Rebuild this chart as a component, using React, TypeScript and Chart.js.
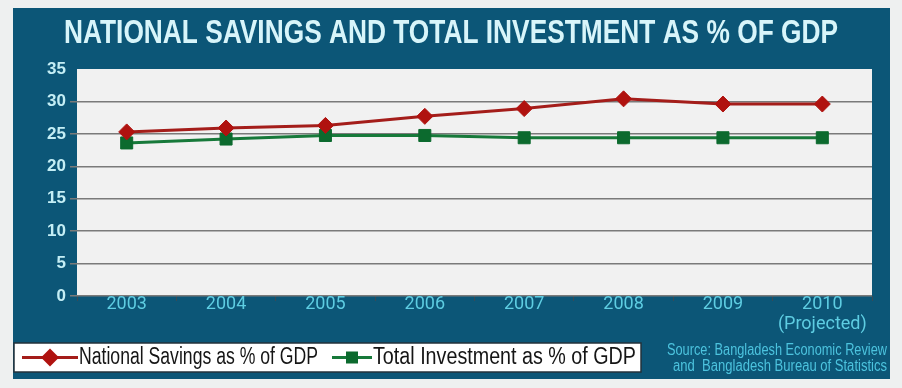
import React, { useEffect, useRef } from 'react';
import { Chart, registerables } from 'chart.js';

Chart.register(...registerables);

const categories: (string | string[])[] = ['2003', '2004', '2005', '2006', '2007', '2008', '2009', ['2010', '(Projected)']];
const nationalSavings = [25.3, 25.9, 26.3, 27.7, 28.9, 30.4, 29.6, 29.6];
const totalInvestment = [23.6, 24.2, 24.75, 24.75, 24.4, 24.4, 24.4, 24.4];
const yTicks = [0, 5, 10, 15, 20, 25, 30, 35];
const seriesNames = ['National Savings as % of GDP', 'Total Investment as % of GDP'];
const titleText = 'NATIONAL SAVINGS AND TOTAL INVESTMENT AS % OF GDP';
const sourceLines = ['Source: Bangladesh Economic Review', 'and  Bangladesh Bureau of Statistics'];

const SANS = "'Liberation Sans', Arial, sans-serif";
const XFONT = "Roboto, 'Liberation Sans', sans-serif";

const RED_LINE = '#a41d1a';
const RED_MARK = '#b0120f';
const GREEN_LINE = '#17793a';
const GREEN_MARK = '#0c6a2e';
const PANEL = '#0c5677';

// draws text squeezed horizontally so that it spans the given width
function squeezedText(
  ctx: CanvasRenderingContext2D,
  text: string,
  x: number,
  y: number,
  font: string,
  color: string,
  align: 'left' | 'center' | 'right',
  width: number
) {
  ctx.save();
  ctx.font = font;
  ctx.fillStyle = color;
  ctx.textBaseline = 'middle';
  ctx.textAlign = 'left';
  const w = ctx.measureText(text).width;
  const sx = width / w;
  const x0 = align === 'left' ? x : align === 'center' ? x - width / 2 : x - width;
  ctx.translate(x0, y);
  ctx.scale(sx, 1);
  ctx.fillText(text, 0, 0);
  ctx.restore();
}

function drawDiamond(ctx: CanvasRenderingContext2D, cx: number, cy: number, r: number, color: string) {
  ctx.fillStyle = color;
  ctx.beginPath();
  ctx.moveTo(cx, cy - r);
  ctx.lineTo(cx + r, cy);
  ctx.lineTo(cx, cy + r);
  ctx.lineTo(cx - r, cy);
  ctx.closePath();
  ctx.fill();
}

const decorPlugin = {
  id: 'panelDecor',
  beforeDraw(chart: any) {
    const { ctx, width, height, chartArea } = chart;
    ctx.save();
    ctx.fillStyle = '#eef0f0';
    ctx.fillRect(0, 0, width, height);
    ctx.fillStyle = PANEL;
    ctx.fillRect(13, 8, 877, 371);
    ctx.fillStyle = '#f1f1f1';
    ctx.fillRect(chartArea.left, chartArea.top, chartArea.right - chartArea.left, chartArea.bottom - chartArea.top);
    ctx.restore();
  },
  afterDraw(chart: any) {
    const ctx: CanvasRenderingContext2D = chart.ctx;
    // title
    squeezedText(ctx, titleText, 451, 34, `bold 33px ${SANS}`, '#d8f5fa', 'center', 774);

    // legend box
    ctx.save();
    ctx.fillStyle = '#ffffff';
    ctx.fillRect(14, 343, 627, 29);
    ctx.strokeStyle = '#23323b';
    ctx.lineWidth = 1.5;
    ctx.strokeRect(14, 343, 627, 29);
    // series 1 legend symbol
    ctx.strokeStyle = RED_LINE;
    ctx.lineWidth = 3;
    ctx.beginPath();
    ctx.moveTo(22, 357.5);
    ctx.lineTo(78, 357.5);
    ctx.stroke();
    drawDiamond(ctx, 50, 357.5, 9, RED_MARK);
    // series 2 legend symbol
    ctx.strokeStyle = GREEN_LINE;
    ctx.beginPath();
    ctx.moveTo(332, 357.5);
    ctx.lineTo(372, 357.5);
    ctx.stroke();
    ctx.fillStyle = GREEN_MARK;
    ctx.fillRect(346, 351.5, 12, 12);
    ctx.restore();
    squeezedText(ctx, seriesNames[0], 79, 358, `23px ${SANS}`, '#151515', 'left', 239);
    squeezedText(ctx, seriesNames[1], 373, 358, `23px ${SANS}`, '#151515', 'left', 263);

    // source note
    squeezedText(ctx, sourceLines[0], 887, 351, `16px ${SANS}`, '#4cc3de', 'right', 220);
    squeezedText(ctx, sourceLines[1], 887, 367, `16px ${SANS}`, '#4cc3de', 'right', 214);
  },
};

export default function App() {
  const ref = useRef<HTMLCanvasElement | null>(null);

  useEffect(() => {
    if (!ref.current) return;
    const chart = new Chart(ref.current, {
      type: 'line',
      data: {
        labels: categories,
        datasets: [
          {
            label: seriesNames[0],
            data: nationalSavings,
            borderColor: RED_LINE,
            backgroundColor: RED_MARK,
            borderWidth: 3,
            pointStyle: 'rectRot',
            pointRadius: 8,
            pointBackgroundColor: RED_MARK,
            pointBorderColor: RED_MARK,
            pointBorderWidth: 1,
            tension: 0,
          },
          {
            label: seriesNames[1],
            data: totalInvestment,
            borderColor: GREEN_LINE,
            backgroundColor: GREEN_MARK,
            borderWidth: 3,
            pointStyle: 'rect',
            pointRadius: 8.5,
            pointBackgroundColor: GREEN_MARK,
            pointBorderColor: GREEN_MARK,
            pointBorderWidth: 1,
            tension: 0,
          },
        ],
      },
      options: {
        responsive: false,
        animation: false,
        layout: { padding: { left: 7, right: 30, top: 69, bottom: 0 } },
        plugins: {
          title: { display: false },
          legend: { display: false },
          tooltip: { enabled: false },
        },
        scales: {
          x: {
            offset: true,
            grid: {
              offset: true,
              drawOnChartArea: false,
              drawTicks: true,
              tickLength: 5,
              color: '#3a4a55',
              lineWidth: 1,
            },
            border: { display: false },
            ticks: {
              color: '#5ecde2',
              font: { family: XFONT, size: 18, lineHeight: 1.1 },
              padding: -6,
              autoSkip: false,
              maxRotation: 0,
            },
            afterFit: (scale: any) => {
              scale.height = 388 - 296;
            },
          },
          y: {
            min: 0,
            max: 35,
            afterBuildTicks: (scale: any) => {
              scale.ticks = yTicks.map((v) => ({ value: v }));
            },
            grid: {
              color: (c: any) => (c.tick && c.tick.value === 35 ? 'rgba(0,0,0,0)' : '#7a7a7a'),
              lineWidth: 1.5,
              tickLength: 7,
            },
            border: { display: false },
            ticks: {
              color: '#c4eef5',
              font: { family: SANS, size: 17, weight: 'bold' },
              padding: 4,
            },
            afterFit: (scale: any) => {
              scale.width = 70;
            },
          },
        },
      },
      plugins: [decorPlugin],
    });
    return () => chart.destroy();
  }, []);

  return (
    <div style={{ position: 'absolute', left: 0, top: 0, width: 902, height: 388 }}>
      <canvas ref={ref} width={902} height={388} style={{ display: 'block' }} />
    </div>
  );
}
